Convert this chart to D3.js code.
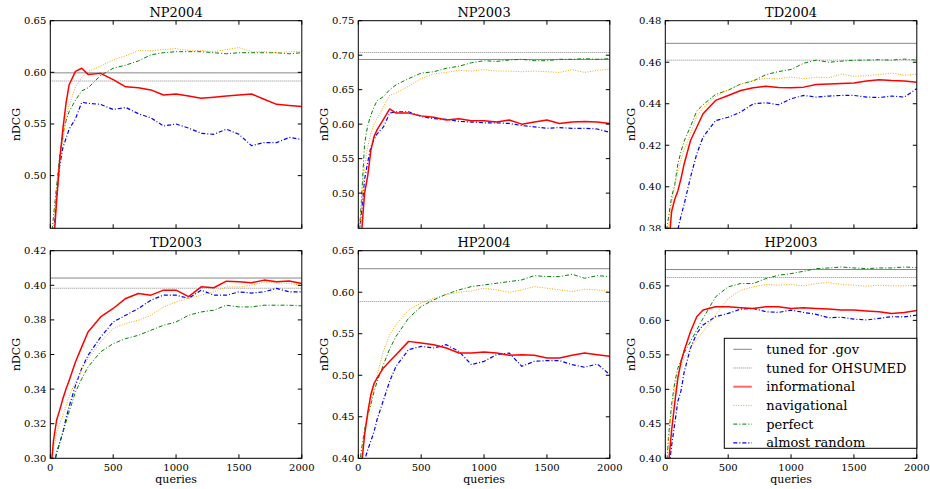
<!DOCTYPE html>
<html>
<head>
    <title>nDCG vs queries</title>
    <script src="https://d3js.org/d3.v7.min.js"></script>
    <style>
        body { margin: 0; background: #fff; font-family: "DejaVu Serif", serif; }
        .tick-label { font-size: 10px; fill: #000; }
        .title { font-size: 13px; fill: #000; }
        .axis-label { font-size: 11px; fill: #000; }
        .legend-text { font-size: 13px; fill: #000; }
    </style>
</head>
<body style="overflow: hidden;">
<script>
// shared query grid (x values)
var queries = [0,25,50,75,100,125,150,200,250,300,400,500,600,700,800,900,1000,1100,1200,1300,1400,1500,1600,1700,1800,1900,2000];
var xTicks = [0, 500, 1000, 1500, 2000];

// NP2004
var np2004_inf  = [0.40,0.43,0.475,0.515,0.545,0.570,0.588,0.601,0.604,0.598,0.599,0.593,0.586,0.585,0.583,0.578,0.579,0.577,0.575,0.576,0.577,0.578,0.579,0.574,0.569,0.568,0.567];
var np2004_nav  = [0.42,0.45,0.49,0.515,0.533,0.557,0.568,0.586,0.595,0.601,0.606,0.612,0.616,0.621,0.621,0.622,0.623,0.621,0.621,0.620,0.622,0.624,0.620,0.620,0.619,0.620,0.620];
var np2004_perf = [0.43,0.46,0.49,0.52,0.54,0.553,0.562,0.573,0.582,0.585,0.597,0.604,0.607,0.611,0.617,0.619,0.620,0.620,0.620,0.619,0.618,0.619,0.619,0.619,0.619,0.618,0.619];
var np2004_rand = [0.42,0.44,0.48,0.51,0.527,0.536,0.545,0.555,0.571,0.570,0.569,0.564,0.566,0.560,0.556,0.548,0.550,0.546,0.541,0.540,0.545,0.540,0.529,0.532,0.532,0.537,0.535];

// NP2003
var np2003_inf  = [0.38,0.44,0.50,0.525,0.562,0.582,0.592,0.607,0.622,0.616,0.616,0.612,0.610,0.606,0.608,0.605,0.605,0.603,0.606,0.600,0.603,0.606,0.601,0.603,0.604,0.603,0.601];
var np2003_nav  = [0.42,0.48,0.54,0.567,0.587,0.600,0.608,0.625,0.642,0.645,0.655,0.666,0.673,0.675,0.678,0.677,0.679,0.677,0.677,0.676,0.677,0.676,0.675,0.679,0.675,0.678,0.680];
var np2003_perf = [0.42,0.49,0.572,0.598,0.613,0.625,0.634,0.640,0.650,0.657,0.666,0.674,0.676,0.681,0.684,0.689,0.692,0.691,0.693,0.694,0.692,0.692,0.694,0.694,0.695,0.694,0.695];
var np2003_rand = [0.43,0.47,0.52,0.545,0.567,0.578,0.586,0.596,0.616,0.618,0.618,0.611,0.608,0.607,0.604,0.603,0.602,0.602,0.601,0.598,0.596,0.594,0.595,0.594,0.594,0.593,0.588];

// TD2004
var td2004_inf  = [0.36,0.37,0.388,0.394,0.398,0.404,0.411,0.4222,0.4287,0.4352,0.4416,0.444,0.4464,0.4477,0.4484,0.4478,0.4477,0.448,0.4493,0.4495,0.4498,0.45,0.451,0.4516,0.4512,0.451,0.4503];
var td2004_nav  = [0.372,0.38,0.392,0.400,0.4077,0.413,0.418,0.4255,0.434,0.438,0.4435,0.4468,0.4495,0.4513,0.4522,0.452,0.4529,0.452,0.4528,0.4525,0.4542,0.4532,0.4535,0.454,0.4548,0.4537,0.4542];
var td2004_perf = [0.375,0.385,0.395,0.401,0.411,0.417,0.422,0.429,0.4365,0.4395,0.4445,0.4465,0.4495,0.451,0.454,0.4555,0.4565,0.4595,0.461,0.460,0.4605,0.461,0.461,0.4612,0.461,0.4615,0.461];
var td2004_rand = [0.35,0.355,0.362,0.37,0.3795,0.386,0.3916,0.4045,0.4158,0.4239,0.4319,0.4335,0.436,0.440,0.4405,0.4395,0.4424,0.444,0.4432,0.4437,0.444,0.444,0.4432,0.443,0.4437,0.4432,0.4473];

// TD2003
var td2003_inf  = [0.29,0.31,0.322,0.328,0.3344,0.340,0.345,0.3557,0.3644,0.373,0.3817,0.3866,0.3924,0.3953,0.3943,0.3972,0.3972,0.3935,0.3991,0.3986,0.4024,0.402,0.4015,0.403,0.402,0.4025,0.401];
var td2003_nav  = [0.29,0.305,0.315,0.320,0.3248,0.330,0.336,0.344,0.351,0.3576,0.3673,0.375,0.3779,0.3798,0.3827,0.3875,0.3904,0.3924,0.3943,0.3962,0.3991,0.399,0.4001,0.402,0.4015,0.401,0.4001];
var td2003_perf = [0.285,0.295,0.303,0.309,0.315,0.321,0.327,0.3383,0.346,0.3528,0.3615,0.3663,0.3692,0.3711,0.374,0.3769,0.3788,0.3827,0.3846,0.3856,0.3885,0.3875,0.3875,0.3885,0.3885,0.3885,0.3881];
var td2003_rand = [0.285,0.295,0.303,0.309,0.315,0.323,0.330,0.342,0.352,0.3595,0.370,0.3788,0.3827,0.3866,0.3914,0.3943,0.3943,0.3925,0.3972,0.3943,0.3943,0.3962,0.3955,0.3962,0.3982,0.3962,0.3962];

// HP2004
var hp2004_inf  = [0.36,0.39,0.428,0.455,0.4768,0.490,0.4968,0.5088,0.5168,0.5248,0.5408,0.5388,0.5368,0.5328,0.5268,0.5268,0.528,0.5268,0.524,0.5248,0.524,0.5208,0.5208,0.524,0.5268,0.5248,0.5228];
var hp2004_nav  = [0.36,0.40,0.432,0.450,0.4688,0.487,0.5008,0.5288,0.5488,0.5608,0.5788,0.5868,0.5928,0.5968,0.60,0.6016,0.6048,0.6028,0.60,0.6028,0.6068,0.6048,0.6028,0.6008,0.6036,0.6028,0.6008];
var hp2004_perf = [0.38,0.41,0.435,0.452,0.4648,0.480,0.4928,0.5128,0.532,0.5468,0.5688,0.5828,0.5908,0.5976,0.6028,0.6068,0.6088,0.6108,0.6128,0.6148,0.62,0.6188,0.6188,0.6216,0.6168,0.62,0.6188];
var hp2004_rand = [0.36,0.38,0.398,0.410,0.4208,0.432,0.447,0.470,0.493,0.5108,0.5308,0.5348,0.5328,0.5368,0.5288,0.5128,0.5168,0.5248,0.5268,0.5108,0.5168,0.5176,0.5176,0.5128,0.5096,0.5136,0.5008];

// HP2003
var hp2003_inf  = [0.34,0.39,0.44,0.48,0.5163,0.54,0.556,0.5836,0.6053,0.6149,0.6197,0.6197,0.6183,0.6173,0.6197,0.6197,0.6173,0.6183,0.6173,0.6163,0.6149,0.6149,0.6135,0.6125,0.6101,0.6115,0.6144];
var hp2003_nav  = [0.36,0.42,0.468,0.50,0.5211,0.535,0.545,0.5596,0.572,0.5836,0.6077,0.6317,0.6437,0.6486,0.6519,0.651,0.6519,0.65,0.6534,0.6548,0.6519,0.651,0.6495,0.651,0.65,0.65,0.651];
var hp2003_perf = [0.36,0.43,0.478,0.51,0.5308,0.542,0.553,0.5692,0.586,0.6029,0.6341,0.6486,0.6534,0.6534,0.6606,0.6654,0.6678,0.6712,0.675,0.676,0.6774,0.676,0.675,0.676,0.676,0.6774,0.6764];
var hp2003_rand = [0.34,0.38,0.418,0.45,0.4827,0.498,0.525,0.5596,0.5812,0.5933,0.6053,0.6101,0.6163,0.6173,0.6125,0.6115,0.6149,0.6115,0.6087,0.6038,0.6045,0.6019,0.6005,0.6029,0.6053,0.605,0.6077];

// reference lines: [tuned for .gov, tuned for OHSUMED]
var govLevels     = [0.5995, 0.6938, 0.4691, 0.4042, 0.6283, 0.6737];
var ohsumedLevels = [0.5916, 0.7039, 0.4610, 0.3983, 0.5887, 0.6621];

var panelTitles = ["NP2004", "NP2003", "TD2004", "TD2003", "HP2004", "HP2003"];
var yDomains = [[0.449, 0.65], [0.449, 0.75], [0.38, 0.48], [0.30, 0.42], [0.40, 0.65], [0.40, 0.701]];
var yTickValues = [
    [0.50, 0.55, 0.60, 0.65],
    [0.50, 0.55, 0.60, 0.65, 0.70, 0.75],
    [0.38, 0.40, 0.42, 0.44, 0.46, 0.48],
    [0.30, 0.32, 0.34, 0.36, 0.38, 0.40, 0.42],
    [0.40, 0.45, 0.50, 0.55, 0.60, 0.65],
    [0.40, 0.45, 0.50, 0.55, 0.60, 0.65]
];
var seriesData = [
    [np2004_inf, np2004_nav, np2004_perf, np2004_rand],
    [np2003_inf, np2003_nav, np2003_perf, np2003_rand],
    [td2004_inf, td2004_nav, td2004_perf, td2004_rand],
    [td2003_inf, td2003_nav, td2003_perf, td2003_rand],
    [hp2004_inf, hp2004_nav, hp2004_perf, hp2004_rand],
    [hp2003_inf, hp2003_nav, hp2003_perf, hp2003_rand]
];
var legendLabels = ["tuned for .gov", "tuned for OHSUMED", "informational", "navigational", "perfect", "almost random"];

// line styles: informational, navigational, perfect, almost random
var styles = [
    {color: "#ff0000", width: 1.5, dash: null},
    {color: "#ffa500", width: 1, dash: "1,1.5"},
    {color: "#008000", width: 1, dash: "4,2,1,2"},
    {color: "#0000ff", width: 1.2, dash: "4,2,1,2"}
];
var refStyles = [
    {color: "#888888", width: 1, dash: null},
    {color: "#888888", width: 1, dash: "1,1"}
];

var width = 930, height = 489;
var colLeft = [50.3, 358.3, 665.3];
var rowTop = [20.7, 250.7];
var pw = 251.5, ph = 207.6;

var svg = d3.select("body").append("svg")
    .attr("width", width)
    .attr("height", height);

// the top row is cut off just above the lower row titles
svg.append("clipPath").attr("id", "toprow")
  .append("rect").attr("x", 0).attr("y", 0).attr("width", width).attr("height", 231);

panelTitles.forEach(function(title, i) {
    var col = i % 3, row = Math.floor(i / 3);
    var left = colLeft[col], top = rowTop[row];

    var xscale = d3.scaleLinear().domain([0, 2000]).range([0, pw]);
    var yscale = d3.scaleLinear().domain(yDomains[i]).range([ph, 0]);

    var outer = svg.append("g");
    if (row == 0) outer.attr("clip-path", "url(#toprow)");
    var g = outer.append("g").attr("transform", "translate(" + left + "," + top + ")");

    g.append("clipPath").attr("id", "clip" + i)
      .append("rect").attr("width", pw).attr("height", ph);

    var plot = g.append("g").attr("clip-path", "url(#clip" + i + ")");

    // reference lines
    [govLevels[i], ohsumedLevels[i]].forEach(function(v, k) {
        plot.append("line")
            .attr("x1", 0).attr("x2", pw)
            .attr("y1", yscale(v)).attr("y2", yscale(v))
            .attr("stroke", refStyles[k].color)
            .attr("stroke-width", refStyles[k].width)
            .attr("stroke-dasharray", refStyles[k].dash);
    });

    var line = d3.line()
        .x(function(d, j) { return xscale(queries[j]); })
        .y(function(d) { return yscale(d); });

    // draw random, perfect, navigational, then informational on top
    [3, 2, 1, 0].forEach(function(s) {
        plot.append("path")
            .datum(seriesData[i][s])
            .attr("d", line)
            .attr("fill", "none")
            .attr("stroke", styles[s].color)
            .attr("stroke-width", styles[s].width)
            .attr("stroke-dasharray", styles[s].dash)
            .attr("stroke-linejoin", "round");
    });

    // frame
    g.append("rect")
        .attr("width", pw).attr("height", ph)
        .attr("fill", "none").attr("stroke", "#000").attr("stroke-width", 1);

    // ticks inside on all four sides
    var tl = 4;
    yTickValues[i].forEach(function(v) {
        var y = yscale(v);
        g.append("line").attr("x1", 0).attr("x2", tl).attr("y1", y).attr("y2", y).attr("stroke", "#000");
        g.append("line").attr("x1", pw - tl).attr("x2", pw).attr("y1", y).attr("y2", y).attr("stroke", "#000");
        g.append("text")
            .attr("class", "tick-label")
            .attr("x", -4).attr("y", y)
            .attr("dy", "0.35em")
            .attr("text-anchor", "end")
            .text(d3.format(".2f")(v));
    });
    xTicks.forEach(function(v) {
        var x = xscale(v);
        g.append("line").attr("x1", x).attr("x2", x).attr("y1", ph).attr("y2", ph - tl).attr("stroke", "#000");
        g.append("line").attr("x1", x).attr("x2", x).attr("y1", 0).attr("y2", tl).attr("stroke", "#000");
        if (row == 1) {
            g.append("text")
                .attr("class", "tick-label")
                .attr("x", x).attr("y", ph + 13)
                .attr("text-anchor", "middle")
                .text(v);
        }
    });

    // title and axis labels
    g.append("text")
        .attr("class", "title")
        .attr("x", pw / 2).attr("y", -4)
        .attr("text-anchor", "middle")
        .text(title);

    g.append("text")
        .attr("class", "axis-label")
        .attr("transform", "translate(" + (-30) + "," + (ph / 2) + ") rotate(-90)")
        .attr("text-anchor", "middle")
        .text("nDCG");

    if (row == 1) {
        g.append("text")
            .attr("class", "axis-label")
            .attr("x", pw / 2).attr("y", ph + 25)
            .attr("text-anchor", "middle")
            .text("queries");
    }

    // legend in the last panel
    if (i == 5) {
        var lx = 724.3 - left, ly = 338.3 - top, lw = pw - (724.3 - left), lh = 110;
        var leg = g.append("g").attr("transform", "translate(" + lx + "," + ly + ")");
        leg.append("rect")
            .attr("width", lw).attr("height", lh)
            .attr("fill", "#fff").attr("stroke", "#000").attr("stroke-width", 1);
        var legStyles = refStyles.concat(styles);
        legendLabels.forEach(function(lab, k) {
            var y = 11 + k * 18.7;
            leg.append("line")
                .attr("x1", 9).attr("x2", 27.5)
                .attr("y1", y).attr("y2", y)
                .attr("stroke", legStyles[k].color)
                .attr("stroke-opacity", k == 2 ? 0.6 : 1)
                .attr("stroke-width", k == 2 ? 2 : legStyles[k].width)
                .attr("stroke-dasharray", legStyles[k].dash);
            leg.append("text")
                .attr("class", "legend-text")
                .attr("x", 42).attr("y", y)
                .attr("dy", "0.35em")
                .text(lab);
        });
    }
});
</script>
</body>
</html>
